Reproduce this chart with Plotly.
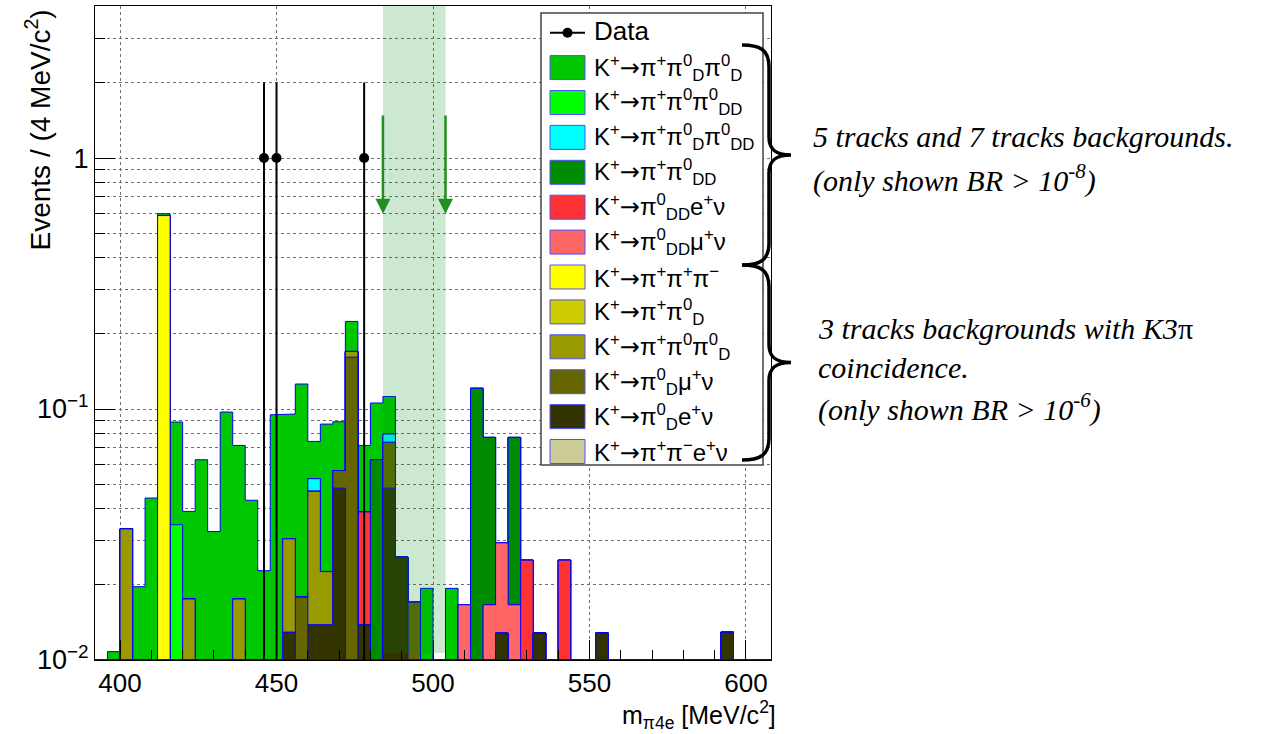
import numpy as np
import plotly.graph_objects as go

# ---------------- binning ----------------
BIN_W = 4
X_MIN, X_MAX = 392, 608
Y_LOG_MIN, Y_LOG_MAX = -2.0, 0.606
Y_FLOOR = 10 ** Y_LOG_MIN

# signal region and arrow markers
SR_LO, SR_HI = 484, 504
ARROW_TOP, ARROW_TIP = 1.5, 0.6

# ---------------- data (events per 4 MeV bin) ----------------
data_centers = [446, 450, 478]
data_counts = [1, 1, 1]

# MC components, keyed by bin lower edge [MeV/c^2]; stacked bottom -> top
k_pipienu = {}
k_pi0D_enu = {452: 0.0129, 460: 0.0138, 464: 0.0138, 468: 0.0484, 476: 0.0138,
              484: 0.0484, 488: 0.0257, 520: 0.0128, 532: 0.0128, 552: 0.0128, 592: 0.0129}
k_pi0D_munu = {456: 0.0178, 468: 0.0085, 472: 0.161, 484: 0.0252, 492: 0.017}
k_pipi0pi0D = {400: 0.0333, 420: 0.0175, 436: 0.0175, 452: 0.0175, 460: 0.0332,
               464: 0.0087, 472: 0.0086}
k_pipi0D = {}
k_3pi = {412: 0.59}
k_pi0DD_munu = {508: 0.0166, 516: 0.0166, 520: 0.0165, 524: 0.0166}
k_pi0DD_enu = {476: 0.0251, 528: 0.025, 540: 0.025}
k_pipi0DD = {480: 0.0628, 512: 0.121, 516: 0.0605, 524: 0.0605}
k_pipi0Dpi0DD = {460: 0.0058, 484: 0.0059}
k_pipi0pi0DD = {416: 0.0346}
k_pipi0Dpi0D = {396: 0.0108, 404: 0.0196, 408: 0.0442, 412: 0.01, 416: 0.0542,
                420: 0.0216, 424: 0.0628, 428: 0.0325, 432: 0.0973, 436: 0.0541,
                440: 0.0433, 444: 0.0227, 448: 0.0949, 452: 0.0651, 456: 0.108,
                460: 0.0215, 464: 0.0646, 468: 0.0321, 472: 0.0538, 476: 0.0327,
                480: 0.0429, 484: 0.0327, 496: 0.0193, 504: 0.0193}


def SUP(s):
    return f"<sup>{s}</sup>"


def SUB(s):
    return f"<sub>{s}</sub>"


ARROW = '<span style="font-family:DejaVu Sans">→</span>'
K = "K" + SUP("+") + ARROW

# (label, fill colour, contents) from the bottom of the stack to the top
stack = [
    (K + "π" + SUP("+") + "π" + SUP("−") + "e" + SUP("+") + "ν", "#cccc99", k_pipienu),
    (K + "π" + SUP("0") + SUB("D") + "e" + SUP("+") + "ν", "#333300", k_pi0D_enu),
    (K + "π" + SUP("0") + SUB("D") + "μ" + SUP("+") + "ν", "#666600", k_pi0D_munu),
    (K + "π" + SUP("+") + "π" + SUP("0") + "π" + SUP("0") + SUB("D"), "#999900", k_pipi0pi0D),
    (K + "π" + SUP("+") + "π" + SUP("0") + SUB("D"), "#cccc00", k_pipi0D),
    (K + "π" + SUP("+") + "π" + SUP("+") + "π" + SUP("−"), "#ffff00", k_3pi),
    (K + "π" + SUP("0") + SUB("DD") + "μ" + SUP("+") + "ν", "#ff6666", k_pi0DD_munu),
    (K + "π" + SUP("0") + SUB("DD") + "e" + SUP("+") + "ν", "#ff3333", k_pi0DD_enu),
    (K + "π" + SUP("+") + "π" + SUP("0") + SUB("DD"), "#008c00", k_pipi0DD),
    (K + "π" + SUP("+") + "π" + SUP("0") + SUB("D") + "π" + SUP("0") + SUB("DD"), "#00ffff", k_pipi0Dpi0DD),
    (K + "π" + SUP("+") + "π" + SUP("0") + "π" + SUP("0") + SUB("DD"), "#00ff00", k_pipi0pi0DD),
    (K + "π" + SUP("+") + "π" + SUP("0") + SUB("D") + "π" + SUP("0") + SUB("D"), "#00c800", k_pipi0Dpi0D),
]

HIST_LINE = "#0000ff"
SANS = "Liberation Sans, Arial, sans-serif"
SERIF = "Liberation Serif, Times New Roman, serif"

edges = np.arange(X_MIN, X_MAX + BIN_W, BIN_W)
lows = edges[:-1]


def to_array(contents):
    return np.array([contents.get(int(lo), 0.0) for lo in lows])


def step_polygon(vals):
    xs, ys = [X_MIN], [Y_FLOOR]
    for lo, v in zip(lows, vals):
        y = v if v > 0 else Y_FLOOR
        xs += [lo, lo + BIN_W]
        ys += [y, y]
    xs += [X_MAX, X_MIN]
    ys += [Y_FLOOR, Y_FLOOR]
    return xs, ys


# cumulative stack levels
cums = []
running = np.zeros(len(lows))
for _, _, contents in stack:
    running = running + to_array(contents)
    cums.append(running.copy())

fig = go.Figure()

# draw the tallest cumulative first, each lower one over it
for k in reversed(range(len(stack))):
    xs, ys = step_polygon(cums[k])
    fig.add_trace(go.Scatter(
        x=xs, y=ys, mode="lines", fill="toself", fillcolor=stack[k][1],
        line=dict(color=HIST_LINE, width=1), showlegend=False, hoverinfo="skip"))

# data with sqrt(N) errors
counts = np.array(data_counts, dtype=float)
err = np.sqrt(counts)
err_lo = np.minimum(err, counts - 1e-6)
fig.add_trace(go.Scatter(
    x=data_centers, y=counts, mode="markers",
    marker=dict(color="black", size=10),
    error_y=dict(type="data", symmetric=False, array=err, arrayminus=err_lo,
                 color="black", thickness=2, width=0),
    showlegend=False, hoverinfo="skip"))

# ---------------- pixel helpers for frame-relative decorations ----------------
FIG_W, FIG_H = 1261, 734
L, R, T, B = 95, 771, 6, 660


def px(X):
    return (X - L) / (R - L)


def py(Y):
    return (B - Y) / (B - T)


shapes = []
annotations = []

# signal-region band
shapes.append(dict(type="rect", xref="x", yref="paper", x0=SR_LO, x1=SR_HI,
                   y0=py(653), y1=1, fillcolor="rgba(0,138,25,0.2)",
                   line=dict(width=0), layer="above"))

# arrows marking the signal region
for xa in (SR_LO, SR_HI):
    annotations.append(dict(x=xa, y=np.log10(ARROW_TIP), ax=xa, ay=np.log10(ARROW_TOP),
                            xref="x", yref="y", axref="x", ayref="y", text="",
                            showarrow=True, arrowhead=2, arrowsize=1.2,
                            arrowwidth=2.5, arrowcolor="#1f8f1f"))

# ---------------- legend box ----------------
LEG_X0, LEG_X1, LEG_Y0, LEG_Y1 = 541, 763, 13, 465
ROW0, ROW_DY = 32.7, 34.9
SW_X0, SW_X1, SW_H = 550, 585, 24
TXT_X = 592
LEG_FONT = 24

shapes.append(dict(type="rect", xref="paper", yref="paper",
                   x0=px(LEG_X0), x1=px(LEG_X1), y0=py(LEG_Y1), y1=py(LEG_Y0),
                   fillcolor="white", line=dict(color="#444444", width=1.5), layer="above"))

# data entry
shapes.append(dict(type="line", xref="paper", yref="paper",
                   x0=px(SW_X0), x1=px(SW_X1), y0=py(ROW0), y1=py(ROW0),
                   line=dict(color="black", width=2), layer="above"))
shapes.append(dict(type="circle", xref="paper", yref="paper",
                   x0=px(567.5 - 5), x1=px(567.5 + 5), y0=py(ROW0 + 5), y1=py(ROW0 - 5),
                   fillcolor="black", line=dict(color="black", width=0), layer="above"))
annotations.append(dict(x=px(TXT_X), y=py(ROW0 - 2), xref="paper", yref="paper",
                        text="Data", showarrow=False, xanchor="left", yanchor="middle",
                        font=dict(family=SANS, size=LEG_FONT + 2, color="black")))

for i, (label, color, _) in enumerate(reversed(stack), start=1):
    yc = ROW0 + ROW_DY * i
    shapes.append(dict(type="rect", xref="paper", yref="paper",
                       x0=px(SW_X0), x1=px(SW_X1), y0=py(yc + SW_H / 2), y1=py(yc - SW_H / 2),
                       fillcolor=color, line=dict(color="#5050ff", width=1), layer="above"))
    annotations.append(dict(x=px(TXT_X), y=py(yc), xref="paper", yref="paper",
                            text=label, showarrow=False, xanchor="left", yanchor="middle",
                            font=dict(family=SANS, size=LEG_FONT, color="black")))


# ---------------- braces grouping the legend ----------------
def brace_path(top, bot, xl=742, xs=769, xt=791):
    mid = (top + bot) / 2
    pts = [
        ("M", [(xl, top)]),
        ("C", [(xs - 10, top), (xs, top + 4), (xs, top + 22)]),
        ("L", [(xs, mid - 18)]),
        ("C", [(xs, mid - 6), (xs + 6, mid), (xt, mid)]),
        ("C", [(xs + 6, mid), (xs, mid + 6), (xs, mid + 18)]),
        ("L", [(xs, bot - 22)]),
        ("C", [(xs, bot - 4), (xs - 10, bot), (xl, bot)]),
    ]
    out = []
    for cmd, plist in pts:
        out.append(cmd + " " + " ".join(f"{px(X):.5f},{py(Y):.5f}" for X, Y in plist))
    return " ".join(out)


for top, bot in ((45, 265), (265, 460)):
    shapes.append(dict(type="path", xref="paper", yref="paper", path=brace_path(top, bot),
                       line=dict(color="black", width=3.5), layer="above"))

# ---------------- side notes ----------------
NOTE_FONT = dict(family=SERIF, size=30, color="black")
notes = [
    (811, 137, "<i>5 tracks and 7 tracks backgrounds.</i>"),
    (811, 178, "<i>(only shown BR &gt; 10" + SUP("-8") + ")</i>"),
    (816, 328, "<i>3 tracks backgrounds with K3</i>π"),
    (816, 367, "<i>coincidence.</i>"),
    (816, 407, "<i>(only shown BR &gt; 10" + SUP("-6") + ")</i>"),
]
for X, Y, txt in notes:
    annotations.append(dict(x=px(X), y=py(Y), xref="paper", yref="paper", text=txt,
                            showarrow=False, xanchor="left", yanchor="middle", font=NOTE_FONT))

# ---------------- axis titles ----------------
annotations.append(dict(x=px(38), y=py(8), xref="paper", yref="paper",
                        text="Events / (4 MeV/c" + SUP("2") + ")", textangle=-90,
                        showarrow=False, xanchor="center", yanchor="top",
                        font=dict(family=SANS, size=28, color="black")))
annotations.append(dict(x=px(777), y=py(734), xref="paper", yref="paper",
                        text="m" + SUB("π4e") + " [MeV/c" + SUP("2") + "]",
                        showarrow=False, xanchor="right", yanchor="bottom", borderpad=0,
                        font=dict(family=SANS, size=25, color="black")))

GRID = "#6e6e6e"
minor_y = [m * 10.0 ** e for e in (-2, -1, 0) for m in range(2, 10)]

fig.update_layout(
    width=FIG_W, height=FIG_H, autosize=False,
    margin=dict(l=L, r=FIG_W - R, t=T, b=FIG_H - B),
    paper_bgcolor="white", plot_bgcolor="white",
    showlegend=False,
    shapes=shapes, annotations=annotations,
    font=dict(family=SANS, size=26, color="black"),
    xaxis=dict(range=[X_MIN, X_MAX], tick0=400, dtick=50,
               ticks="inside", ticklen=20, tickwidth=1, tickcolor="black",
               showline=True, linecolor="black", linewidth=1, mirror=True,
               showgrid=True, gridcolor=GRID, griddash="dot", gridwidth=1,
               zeroline=False, tickfont=dict(family=SANS, size=26),
               minor=dict(tick0=400, dtick=10, ticks="inside", ticklen=10,
                          tickcolor="black", showgrid=False)),
    yaxis=dict(type="log", range=[Y_LOG_MIN, Y_LOG_MAX],
               tickmode="array", tickvals=[0.01, 0.1, 1],
               ticktext=["10" + SUP("−2"), "10" + SUP("−1"), "1"],
               ticks="inside", ticklen=20, tickwidth=1, tickcolor="black",
               showline=True, linecolor="black", linewidth=1, mirror=True,
               showgrid=True, gridcolor=GRID, griddash="dot", gridwidth=1,
               zeroline=False, tickfont=dict(family=SANS, size=27),
               minor=dict(tickmode="array", tickvals=minor_y, ticks="inside",
                          ticklen=10, tickcolor="black", showgrid=True,
                          gridcolor=GRID, griddash="dot", gridwidth=1)),
)

fig.write_html("out.html")
